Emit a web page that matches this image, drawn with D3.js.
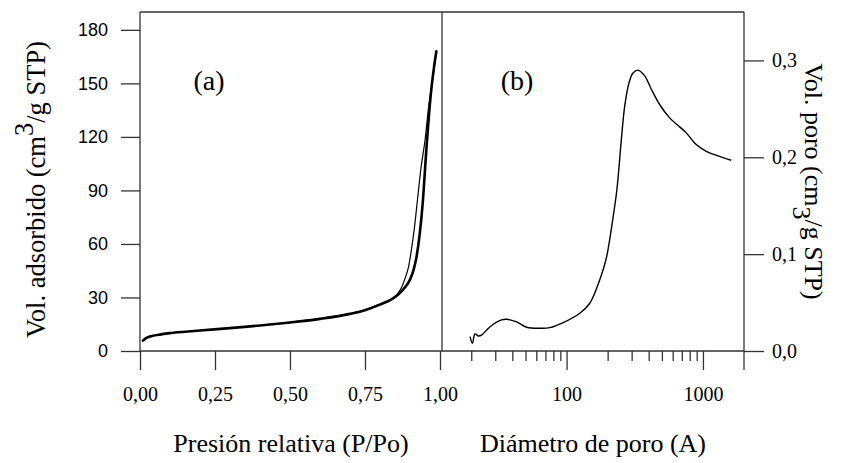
<!DOCTYPE html>
<html><head><meta charset="utf-8">
<script src="https://cdn.jsdelivr.net/npm/d3@7"></script>
<style>
html,body{margin:0;padding:0;background:#fff;}
svg{display:block;}
</style></head>
<body>
<svg id="chart" width="847" height="463"></svg>
<script>
// ---- Data ----
// Panel (a): N2 isotherm, relative pressure vs adsorbed volume
const adsP = [0.01, 0.02, 0.04, 0.07, 0.10, 0.15, 0.20, 0.30, 0.40, 0.50, 0.60, 0.70, 0.75, 0.80, 0.833, 0.86, 0.88, 0.90, 0.912, 0.922, 0.932, 0.942, 0.955, 0.97, 0.98, 0.988];
const adsV = [5.8, 7.2, 8.4, 9.3, 10.0, 10.8, 11.5, 12.8, 14.3, 16.0, 18.0, 20.8, 22.9, 26.0, 28.5, 31.5, 35.0, 40.0, 45.5, 53.0, 65.0, 82.0, 114.0, 145.0, 159.0, 168.0];
const desP = [0.986, 0.974, 0.963, 0.950, 0.937, 0.927, 0.914, 0.904, 0.895, 0.884, 0.873, 0.861, 0.849, 0.832, 0.80, 0.75, 0.70, 0.60, 0.50];
const desV = [166.0, 150.0, 138.0, 118.0, 103.0, 88.0, 68.0, 56.0, 47.0, 41.0, 36.0, 32.5, 30.0, 28.0, 26.3, 23.1, 21.0, 18.2, 16.2];
// Panel (b): pore size distribution, pore diameter (A) vs pore volume
const poreD = [19.6, 20.4, 21.3, 22.6, 23.9, 27.5, 33.4, 36.4, 43.1, 51.0, 63.8, 75.5, 94.4, 125, 148, 175, 195, 215, 234, 252, 267, 287, 307, 334, 374, 419, 481, 570, 675, 755, 893, 1057, 1322, 1611];
const poreV = [0.0148, 0.0080, 0.0176, 0.0155, 0.0166, 0.0251, 0.0321, 0.0328, 0.0300, 0.0245, 0.0235, 0.0241, 0.0293, 0.0390, 0.0493, 0.0734, 0.095, 0.130, 0.167, 0.218, 0.253, 0.277, 0.287, 0.290, 0.284, 0.270, 0.2545, 0.2407, 0.2314, 0.2252, 0.2131, 0.2062, 0.2010, 0.1969];
// Ticks
const leftYTicks = [0, 30, 60, 90, 120, 150, 180];
const leftXTicks = [0, 0.25, 0.5, 0.75, 1.0];
const rightXMajor = [100, 1000];
const rightXMinor = [20, 30, 40, 50, 60, 70, 80, 90, 200, 300, 400, 500, 600, 700, 800, 900];
const rightYTicks = [0, 0.1, 0.2, 0.3];

// ---- Layout ----
const X0 = 140, XM = 442, X1 = 744, Y0 = 351, YT = 12;
const serif = "'Liberation Serif', 'Times New Roman', serif";
const sans = "'Liberation Sans', Arial, sans-serif";
const frameColor = "#333";

const svg = d3.select("#chart");

const xL = d3.scaleLinear().domain([0, 1.0067]).range([X0, XM]);
const yL = d3.scaleLinear().domain([0, 190]).range([Y0, YT]);
const xR = d3.scaleLog().domain([12, 2000]).range([XM - 1, X1]);
const yR = d3.scaleLinear().domain([0, 0.35]).range([Y0, YT]);

const comma = f => d => d3.format(f)(d).replace(".", ",");

function styleAxis(g, font, size) {
  g.select(".domain").remove();
  g.selectAll(".tick line").attr("stroke", frameColor).attr("stroke-width", 1.3);
  g.selectAll(".tick text").attr("fill", "#000").style("font-family", font).style("font-size", size + "px");
}

// Left y axis
svg.append("g").attr("transform", `translate(${X0},0)`)
  .call(d3.axisLeft(yL).tickValues(leftYTicks).tickSize(19).tickPadding(13).tickFormat(d3.format("d")))
  .call(g => styleAxis(g, sans, 18));

// Left x axis
svg.append("g").attr("transform", `translate(0,${Y0})`)
  .call(d3.axisBottom(xL).tickValues(leftXTicks).tickSize(19).tickPadding(17).tickFormat(comma(".2f")))
  .call(g => styleAxis(g, serif, 20));

// Right x axis (log): minor and major ticks
svg.append("g").attr("transform", `translate(0,${Y0})`)
  .call(d3.axisBottom(xR).tickValues(rightXMinor).tickSize(10).tickFormat(""))
  .call(g => styleAxis(g, serif, 20));
svg.append("g").attr("transform", `translate(0,${Y0})`)
  .call(d3.axisBottom(xR).tickValues(rightXMajor).tickSize(19).tickPadding(17).tickFormat(d3.format("d")))
  .call(g => styleAxis(g, serif, 20));

// Right y axis
svg.append("g").attr("transform", `translate(${X1},0)`)
  .call(d3.axisRight(yR).tickValues(rightYTicks).tickSize(20).tickPadding(8).tickFormat(comma(".1f")))
  .call(g => styleAxis(g, serif, 20));

// Frame
const frame = svg.append("g").attr("stroke", frameColor).attr("stroke-width", 1.3).attr("fill", "none");
frame.append("line").attr("x1", X0).attr("x2", X1).attr("y1", YT).attr("y2", YT);
frame.append("line").attr("x1", X0).attr("x2", X1).attr("y1", Y0).attr("y2", Y0);
frame.append("line").attr("x1", X0).attr("x2", X0).attr("y1", YT).attr("y2", Y0);
frame.append("line").attr("x1", XM).attr("x2", XM).attr("y1", YT).attr("y2", Y0);
frame.append("line").attr("x1", X1).attr("x2", X1).attr("y1", YT).attr("y2", Y0 + 19);

// Curves
const lineL = d3.line().x(d => xL(d[0])).y(d => yL(d[1])).curve(d3.curveMonotoneX);
svg.append("path").datum(adsP.map((p, i) => [p, adsV[i]]))
  .attr("d", lineL).attr("fill", "none").attr("stroke", "#000").attr("stroke-width", 2.6).attr("stroke-linejoin", "round").attr("stroke-linecap", "round");
svg.append("path").datum(desP.map((p, i) => [p, desV[i]]).reverse())
  .attr("d", lineL).attr("fill", "none").attr("stroke", "#000").attr("stroke-width", 1.2);

const lineR = d3.line().x(d => xR(d[0])).y(d => yR(d[1])).curve(d3.curveCatmullRom);
svg.append("path").datum(poreD.map((p, i) => [p, poreV[i]]))
  .attr("d", lineR).attr("fill", "none").attr("stroke", "#000").attr("stroke-width", 1.4);

// Panel labels
svg.append("text").attr("x", 209).attr("y", 90).attr("text-anchor", "middle")
  .style("font-family", serif).style("font-size", "28px").text("(a)");
svg.append("text").attr("x", 517).attr("y", 90).attr("text-anchor", "middle")
  .style("font-family", serif).style("font-size", "28px").text("(b)");

// Axis titles
svg.append("text").attr("x", (X0 + XM) / 2).attr("y", 452).attr("text-anchor", "middle")
  .style("font-family", serif).style("font-size", "26px").text("Presión relativa (P/Po)");
svg.append("text").attr("x", (XM + X1) / 2).attr("y", 452).attr("text-anchor", "middle")
  .style("font-family", serif).style("font-size", "26px").text("Diámetro de poro (A)");

const yt = svg.append("text").attr("transform", `translate(45,${(YT + Y0) / 2 + 8}) rotate(-90)`)
  .attr("text-anchor", "middle").style("font-family", serif).style("font-size", "26.5px");
yt.append("tspan").text("Vol. adsorbido (cm");
yt.append("tspan").attr("dy", -12).text("3");
yt.append("tspan").attr("dy", 12).text("/g STP)");

const yt2 = svg.append("text").attr("transform", `translate(805,${(YT + Y0) / 2}) rotate(90)`)
  .attr("text-anchor", "middle").style("font-family", serif).style("font-size", "26px");
yt2.append("tspan").text("Vol. poro (cm");
yt2.append("tspan").attr("dy", 12).text("3");
yt2.append("tspan").attr("dy", -12).text("/g STP)");
</script>
</body></html>
